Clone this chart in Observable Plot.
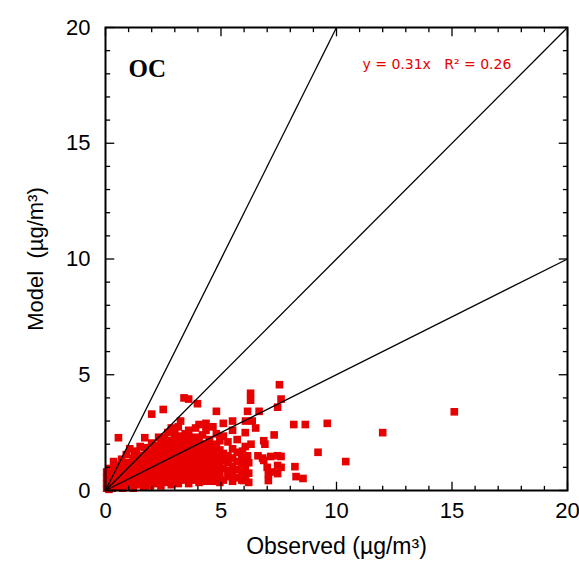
<!DOCTYPE html>
<html><head><meta charset="utf-8">
<script src="https://cdn.jsdelivr.net/npm/d3@7"></script>
<script src="https://cdn.jsdelivr.net/npm/@observablehq/plot@0.6"></script>
<style>body{margin:0;background:#fff}#chart svg{display:block}</style>
</head><body><div id="chart"></div>
<script>
// [observed, model] pairs, µg/m³ — dense cluster near origin
const pointsCluster = [
[0.05,0.1],[0.05,0.3],[0.05,0.55],[0.05,0.8],
[0.15,0.05],[0.15,0.2],[0.15,0.45],[0.15,0.7],[0.15,0.95],
[0.3,0.1],[0.3,0.3],[0.3,0.6],[0.3,0.85],
[0.45,0.15],[0.45,0.4],[0.45,0.65],[0.45,1.0],
[0.6,0.2],[0.6,0.5],[0.6,0.8],[0.6,1.1],
[0.75,0.1],[0.75,0.35],[0.75,0.6],[0.75,0.9],
[0.9,0.25],[0.9,0.5],[0.9,0.75],[0.9,1.2],
[1.05,0.2],[1.05,0.4],[1.05,0.65],[1.05,0.9],[1.05,1.15],
[1.2,0.1],[1.2,0.3],[1.2,0.55],[1.2,0.8],[1.2,1.05],[1.2,1.4],
[1.35,0.25],[1.35,0.45],[1.35,0.7],[1.35,0.95],[1.35,1.25],[1.35,1.6],
[1.5,0.35],[1.5,0.6],[1.5,0.85],[1.5,1.1],[1.5,1.35],
[1.65,0.15],[1.65,0.3],[1.65,0.5],[1.65,0.75],[1.65,1.0],[1.65,1.2],[1.65,1.5],
[1.8,0.4],[1.8,0.65],[1.8,0.9],[1.8,1.15],[1.8,1.4],[1.8,1.7],
[1.95,0.2],[1.95,0.35],[1.95,0.55],[1.95,0.8],[1.95,1.05],[1.95,1.3],[1.95,1.55],
[2.1,0.45],[2.1,0.7],[2.1,0.95],[2.1,1.2],[2.1,1.45],[2.1,1.8],
[2.25,0.3],[2.25,0.5],[2.25,0.8],[2.25,1.1],[2.25,1.35],[2.25,1.6],[2.25,1.95],
[2.4,0.2],[2.4,0.4],[2.4,0.65],[2.4,0.9],[2.4,1.25],[2.4,1.5],[2.4,1.75],[2.4,2.1],
[2.55,0.5],[2.55,0.75],[2.55,1.0],[2.55,1.3],[2.55,1.55],[2.55,1.85],[2.55,2.3],
[2.7,0.35],[2.7,0.6],[2.7,0.85],[2.7,1.15],[2.7,1.4],[2.7,1.7],[2.7,2.0],[2.7,2.5],
[2.85,0.25],[2.85,0.45],[2.85,0.7],[2.85,0.95],[2.85,1.2],[2.85,1.5],[2.85,1.8],[2.85,2.15],[2.85,2.7],
[3.0,0.4],[3.0,0.65],[3.0,0.9],[3.0,1.25],[3.0,1.55],[3.0,1.9],[3.0,2.3],[3.0,2.55],
[3.15,0.3],[3.15,0.5],[3.15,0.8],[3.15,1.05],[3.15,1.35],[3.15,1.65],[3.15,2.0],[3.15,2.35],[3.15,2.75],
[3.3,0.45],[3.3,0.7],[3.3,1.0],[3.3,1.3],[3.3,1.6],[3.3,1.85],[3.3,2.2],
[3.45,0.55],[3.45,0.85],[3.45,1.1],[3.45,1.45],[3.45,1.75],[3.45,2.05],[3.45,2.45],
[3.6,0.3],[3.6,0.5],[3.6,0.75],[3.6,1.05],[3.6,1.35],[3.6,1.7],[3.6,2.0],[3.6,2.3],[3.6,2.6],
[3.75,0.6],[3.75,0.9],[3.75,1.2],[3.75,1.5],[3.75,1.8],[3.75,2.15],
[3.9,0.45],[3.9,0.7],[3.9,1.0],[3.9,1.3],[3.9,1.65],[3.9,1.95],[3.9,2.3],[3.9,2.7],
[4.05,0.35],[4.05,0.6],[4.05,0.85],[4.05,1.15],[4.05,1.45],[4.05,1.75],[4.05,2.1],[4.05,2.85],
[4.2,0.5],[4.2,0.8],[4.2,1.1],[4.2,1.4],[4.2,1.7],[4.2,2.0],[4.2,2.4],
[4.35,0.4],[4.35,0.65],[4.35,0.95],[4.35,1.25],[4.35,1.55],[4.35,1.9],[4.35,2.6],[4.35,2.9],
[4.5,0.55],[4.5,0.85],[4.5,1.15],[4.5,1.5],[4.5,1.8],[4.5,2.2],
[4.65,0.4],[4.65,0.7],[4.65,1.0],[4.65,1.3],[4.65,1.65],[4.65,2.0],[4.65,2.75],
[4.8,0.6],[4.8,0.9],[4.8,1.2],[4.8,1.55],[4.8,1.9],[4.8,2.45],
[4.95,0.35],[4.95,0.5],[4.95,0.8],[4.95,1.1],[4.95,1.45],[4.95,1.75],[4.95,2.15],
[5.1,0.45],[5.1,0.95],[5.1,1.3],[5.1,1.6],[5.1,2.35],[5.1,2.9],
[5.3,0.6],[5.3,0.85],[5.3,1.2],[5.3,1.5],[5.3,2.1],
[5.5,0.4],[5.5,0.75],[5.5,1.05],[5.5,1.4],[5.5,1.8],[5.5,2.6],
[5.7,0.55],[5.7,0.9],[5.7,1.25],[5.7,1.65],[5.7,2.2],
[5.9,0.45],[5.9,0.8],[5.9,1.15],[5.9,1.55],
[6.05,0.6],[6.05,1.0],[6.05,1.35],[6.05,1.9],[6.05,2.5],
[6.2,0.35],[6.2,0.75],[6.2,1.2]
];
// points lying above the 1:1 line near the origin
const pointsUpper = [
[0.35,1.25],[0.7,1.35],[0.9,1.55],[1.05,1.8],[1.25,1.7],[1.5,1.9],
[1.7,1.85],[2.0,2.05],[2.3,2.3],[0.56,2.28],[1.7,2.28]
];
// scattered points
const pointsScatter = [
[7.53,4.57],[6.28,4.2],[6.28,3.9],[3.4,4.0],[3.6,3.95],[3.98,3.75],[2.5,3.5],[2.0,3.3],
[4.8,3.42],[6.15,3.42],[6.65,3.42],[7.6,3.95],[7.45,3.6],[3.25,3.0],[5.5,3.0],[6.06,3.0],
[8.15,2.85],[8.65,2.85],[9.6,2.9],[9.2,1.65],[10.4,1.25],[12.0,2.5],[15.1,3.4],
[7.3,2.4],[6.85,2.15],[6.9,2.0],[6.3,2.0],[6.35,3.0],[6.5,2.7],
[5.93,1.7],[5.93,1.3],[6.15,1.5],[6.6,1.5],[6.8,1.4],[6.85,1.3],[7.15,1.47],[7.6,1.47],[7.45,1.5],
[7.0,1.0],[7.45,1.08],[7.6,1.0],[8.2,1.03],[8.25,0.6],[8.55,0.52],
[7.45,0.73],[7.05,0.73],[7.25,0.8],[7.05,0.43],[6.06,0.65],[5.97,0.43],[5.6,0.56]
];
const refSlopes = [2, 1, 0.5];
const majorTicks = [0, 5, 10, 15, 20];
const minorTicks = [1,2,3,4,6,7,8,9,11,12,13,14,16,17,18,19];
const panelLabel = "OC";
const fitLabel = "y = 0.31x   R² = 0.26";
const xLabel = "Observed (µg/m³)";
const yLabel = "Model  (µg/m³)";

const points = [...pointsCluster, ...pointsUpper, ...pointsScatter];
const refLines = refSlopes.map(s => ({x2: Math.min(20, 20 / s), y2: Math.min(20, 20 / s) * s}));
const red = "#e60000";
const majLen = 0.38, minLen = 0.2;
const tickStyle = {stroke: "black", strokeWidth: 1.3};

const chart = Plot.plot({
  width: 579, height: 561,
  marginLeft: 105, marginRight: 12, marginTop: 27, marginBottom: 71,
  style: {fontFamily: "'Liberation Sans', Arial, sans-serif", fontSize: "22px", background: "white", color: "black"},
  x: {domain: [0, 20]},
  y: {domain: [0, 20]},
  marks: [
    Plot.dot(points, {x: d => d[0], y: d => d[1], symbol: "square", r: 4.3, fill: red, stroke: null}),
    Plot.link(refLines, {x1: 0, y1: 0, x2: "x2", y2: "y2", stroke: "black", strokeWidth: 1.3}),
    // inward ticks on all four sides
    Plot.link(majorTicks, {x1: d => d, x2: d => d, y1: 0, y2: majLen, ...tickStyle}),
    Plot.link(majorTicks, {x1: d => d, x2: d => d, y1: 20, y2: 20 - majLen, ...tickStyle}),
    Plot.link(majorTicks, {y1: d => d, y2: d => d, x1: 0, x2: majLen, ...tickStyle}),
    Plot.link(majorTicks, {y1: d => d, y2: d => d, x1: 20, x2: 20 - majLen, ...tickStyle}),
    Plot.link(minorTicks, {x1: d => d, x2: d => d, y1: 0, y2: minLen, ...tickStyle}),
    Plot.link(minorTicks, {x1: d => d, x2: d => d, y1: 20, y2: 20 - minLen, ...tickStyle}),
    Plot.link(minorTicks, {y1: d => d, y2: d => d, x1: 0, x2: minLen, ...tickStyle}),
    Plot.link(minorTicks, {y1: d => d, y2: d => d, x1: 20, x2: 20 - minLen, ...tickStyle}),
    Plot.frame({stroke: "black", strokeWidth: 2}),
    Plot.axisX({ticks: majorTicks, tickSize: 0, tickPadding: 12, label: null, fontSize: 22}),
    Plot.axisY({ticks: majorTicks, tickSize: 0, tickPadding: 15, label: null, fontSize: 22}),
    Plot.text([xLabel], {text: d => d, frameAnchor: "bottom", dy: 56, fontSize: 23, textAnchor: "middle", lineAnchor: "middle"}),
    Plot.text([yLabel], {text: d => d, frameAnchor: "left", rotate: -90, dx: -70, fontSize: 22, textAnchor: "middle", lineAnchor: "middle"}),
    Plot.text([panelLabel], {text: d => d, frameAnchor: "top-left", dx: 23, dy: 41, textAnchor: "start", lineAnchor: "middle",
      fontFamily: "'Liberation Serif', serif", fontWeight: "bold", fontSize: 25}),
    Plot.text([fitLabel], {text: d => d, frameAnchor: "top-left", dx: 257, dy: 37, textAnchor: "start", lineAnchor: "middle",
      fill: red, fontSize: 14, fontFamily: "'DejaVu Sans', sans-serif"})
  ]
});
document.getElementById("chart").append(chart);
</script>
</body></html>
